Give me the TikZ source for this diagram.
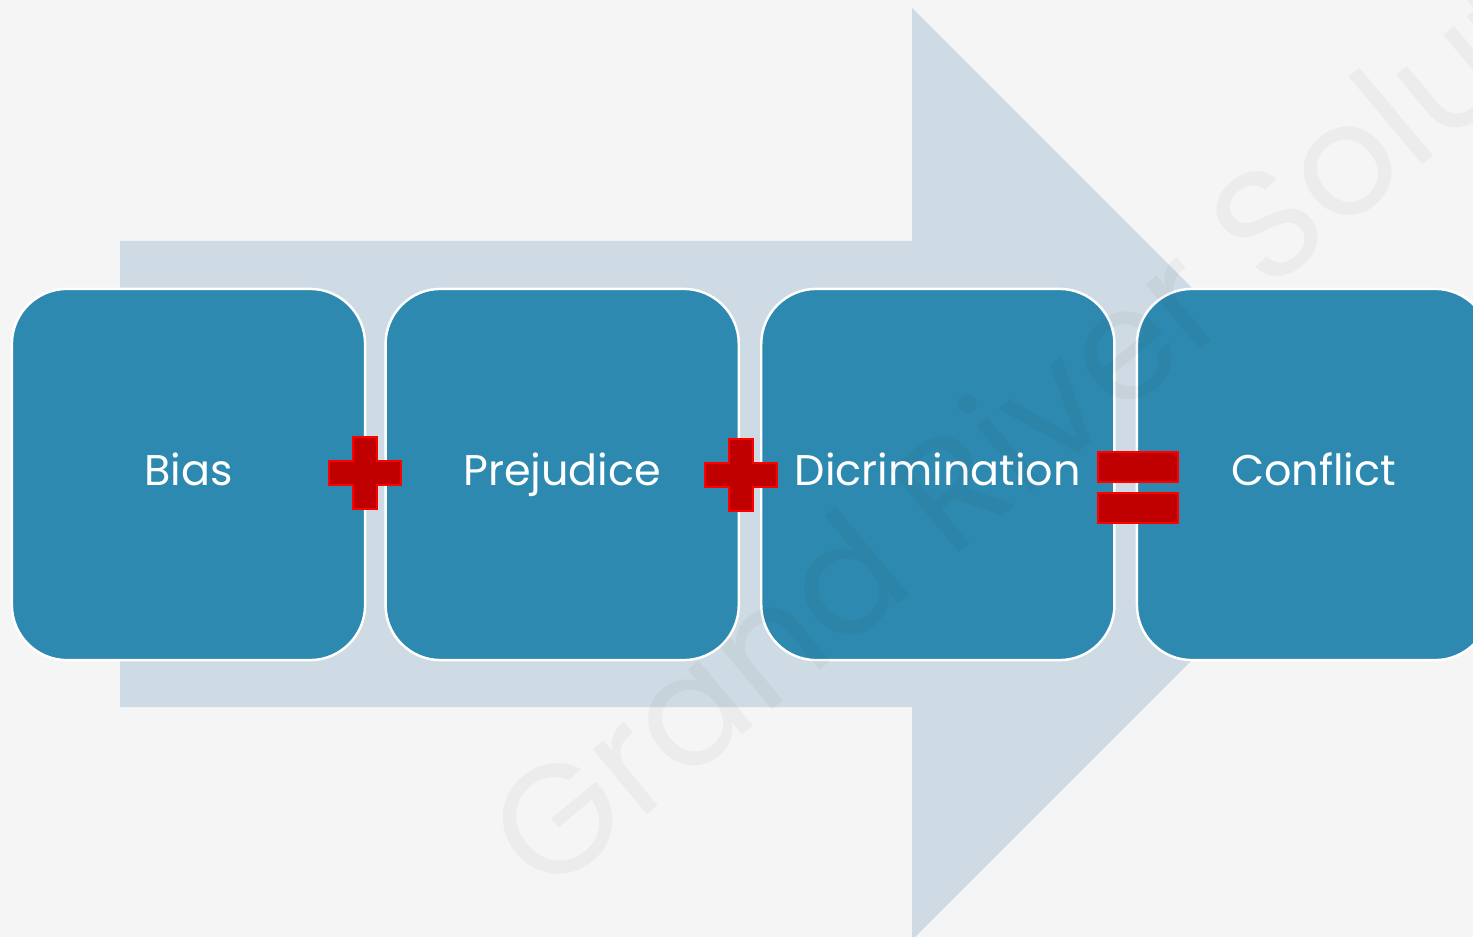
\documentclass[tikz,border=0pt]{standalone}
\usepackage[RGB]{xcolor}
\usepackage{fontspec}
\usepackage{tikz}
\usetikzlibrary{positioning}
\newfontfamily\labelfont{Poppins}
\definecolor{backdrop}{RGB}{245,245,245}
\definecolor{flow}{RGB}{206,219,228}
\definecolor{stage}{RGB}{46,137,176}
\definecolor{signfill}{RGB}{192,0,0}
\definecolor{signedge}{RGB}{255,0,0}
\newcommand{\drawsign}{\draw[fill=signfill, draw=signedge, line width=0.6pt]}
\newcommand{\redplus}[2]{
    \drawsign (#1-36,#2-12)--++(24,0)--++(0,-24)--++(24,0)--++(0,24)--++(24,0)--++(0,24)--++(-24,0)--++(0,24)--++(-24,0)--++(0,-24)--++(-24,0)--cycle;
}
\newcommand{\redequals}[2]{
    \drawsign (#1-40,#2-35)--++(80,0)--++(0,30)--++(-80,0)--cycle;
    \drawsign (#1-40,#2+6)--++(80,0)--++(0,30)--++(-80,0)--cycle;
}
\tikzset{
  stagebox/.style={draw=white, line width=0.7pt, fill=stage, rounded corners=0.55cm,
    minimum width=3.53cm, minimum height=3.71cm, inner sep=0pt, text=white,
    font=\labelfont\fontsize{12.2pt}{14pt}\selectfont, text height=0.83em, text depth=0.19em},
  watermark/.style={text=black, text opacity=0.035, rotate=40, anchor=base west,
    font=\labelfont\fontsize{44pt}{48pt}\selectfont, inner sep=0pt}
}

\begin{document}
\begin{tikzpicture}[x=0.01cm, y=-0.01cm]
\useasboundingbox (0,0) rectangle (1473,937);
\clip (0,0) rectangle (1473,937);
\fill[backdrop] (0,0) rectangle (1473,937);
% big arrow behind the stages
\fill[flow] (120,241)--(912,241)--(912,8)--(1378,474)--(912,940)--(912,707)--(120,707)--cycle;
% stages
\node[stagebox] (bias) at (188.5,474.5) {Bias};
\node[stagebox, right=0.18cm of bias] (prej) {Prejudice};
\node[stagebox, right=0.2cm of prej] (discr) {Dicrimination};
\node[stagebox, right=0.2cm of discr] (confl) {Conflict};
% signs
\redplus{365}{473}\redplus{741}{475}\redequals{1138}{487}
% watermark
\node[watermark] (mark) at (546,900) {Grand River Solutions};
\end{tikzpicture}
\end{document}
